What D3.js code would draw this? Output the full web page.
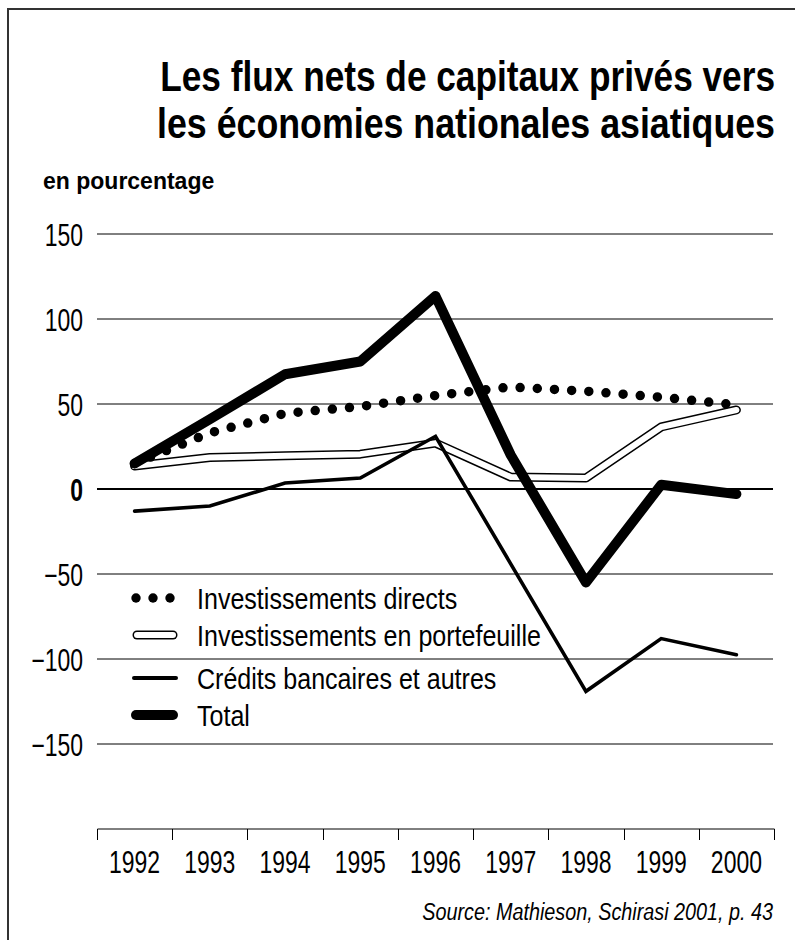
<!DOCTYPE html>
<html><head><meta charset="utf-8">
<script src="https://cdn.jsdelivr.net/npm/d3@7"></script>
<style>
html,body{margin:0;padding:0;background:#fff;}
svg{display:block;}
text{font-family:"Liberation Sans","Arimo",Arial,sans-serif;fill:#000;}
</style></head>
<body>
<svg id="c" width="795" height="940"></svg>
<script>
const years = ["1992","1993","1994","1995","1996","1997","1998","1999","2000"];
const direct    = [15, 33, 44.5, 48.5, 55, 60, 57.5, 54, 49.5];
const portfolio = [13.5, 18.5, 19.5, 20.5, 27, 7, 6.5, 36.5, 46.5];
const credits   = [-13, -10, 3.5, 6.5, 31, -44, -119, -88, -97.5];
const total     = [15, 41, 67.5, 75, 113.5, 20, -55, 2.5, -3];
const yTicks = [150, 100, 50, 0, -50, -100, -150];
const seriesNames = ["Investissements directs","Investissements en portefeuille","Crédits bancaires et autres","Total"];
const titleLines = ["Les flux nets de capitaux privés vers","les économies nationales asiatiques"];
const unitLabel = "en pourcentage";
const sourceText = "Source: Mathieson, Schirasi 2001, p. 43";

const svg = d3.select("#c");
const x = d3.scaleBand().domain(years).range([97, 774]).padding(0);
const y = d3.scaleLinear().domain([-200, 150]).range([829, 234]);
const cx = d => x(d) + x.bandwidth()/2;

function condense(sel, f){ sel.each(function(){ const w=this.getComputedTextLength(); d3.select(this).attr("textLength", w*f).attr("lengthAdjust","spacingAndGlyphs"); }); }
function squeeze(sel, ax, ay, target){ sel.each(function(){ const w=this.getComputedTextLength(); const s=Math.min(1,target/w); d3.select(this).attr("x",0).attr("y",0).attr("transform",`translate(${ax},${ay}) scale(${s},1)`); }); }

// frame
svg.append("line").attr("x1",7).attr("x2",795).attr("y1",9).attr("y2",9).attr("stroke","#333").attr("stroke-width",2);
svg.append("line").attr("x1",8).attr("x2",8).attr("y1",8).attr("y2",940).attr("stroke","#333").attr("stroke-width",2);

// title
titleLines.forEach((t,i)=>{
  svg.append("text").attr("text-anchor","end").style("font-size","42px").style("font-weight","bold")
    .text(t).call(squeeze, 775, 91+i*47, i===0?615:618);
});
svg.append("text").style("font-size","23px").style("font-weight","bold")
  .text(unitLabel).call(squeeze, 43, 189, 175);

// y grid + labels
const yAxis = d3.axisLeft(y).tickValues(yTicks).tickSize(0).tickPadding(0)
  .tickFormat(d => d < 0 ? "\u2212" + Math.abs(d) : String(d));
const gy = svg.append("g").attr("transform","translate(83,0)").call(yAxis);
gy.select(".domain").remove();
gy.selectAll("text").attr("x",0).attr("dy","0.36em").style("font-size","31px")
  .style("font-family","'Liberation Sans',Arial,sans-serif")
  .style("font-weight", d => d===0 ? "bold" : "normal").call(condense, 0.74);
svg.append("g").selectAll("line").data(yTicks).join("line")
  .attr("x1",97).attr("x2",773).attr("y1",d=>y(d)).attr("y2",d=>y(d))
  .attr("stroke","#000").attr("stroke-width",d=>d===0?2:1);

// x axis
const xAxis = d3.axisBottom(x).tickSize(0).tickPadding(0);
const gx = svg.append("g").attr("transform","translate(0,829)").call(xAxis);
gx.select(".domain").attr("d","M97.5,0H774.5").attr("stroke","#000").attr("stroke-width",1);
gx.selectAll(".tick line").remove();
gx.selectAll("text").attr("y",44).attr("dy",0).style("font-size","31px")
  .style("font-family","'Liberation Sans',Arial,sans-serif").call(condense,0.74);
const bounds = years.map(d=>x(d)).concat([x(years[years.length-1])+x.bandwidth()]);
gx.append("g").selectAll("line").data(bounds).join("line")
  .attr("x1",d=>Math.round(d)+0.5).attr("x2",d=>Math.round(d)+0.5).attr("y1",0).attr("y2",11)
  .attr("stroke","#000").attr("stroke-width",1);

// lines
const line = d3.line().x((d,i)=>cx(years[i])).y(d=>y(d));
const gl = svg.append("g").attr("fill","none");
gl.append("path").attr("d",line(portfolio)).attr("stroke","#000").attr("stroke-width",9)
  .attr("stroke-linecap","round").attr("stroke-linejoin","round");
gl.append("path").attr("d",line(portfolio)).attr("stroke","#fff").attr("stroke-width",6)
  .attr("stroke-linecap","round").attr("stroke-linejoin","round");
gl.append("path").attr("d",line(credits)).attr("stroke","#000").attr("stroke-width",3.6)
  .attr("stroke-linecap","round").attr("stroke-linejoin","miter");
gl.append("path").attr("d",line(direct)).attr("stroke","#000").attr("stroke-width",9.5)
  .attr("stroke-linecap","round").attr("stroke-dasharray","0 17.2");
gl.append("path").attr("d",line(total)).attr("stroke","#000").attr("stroke-width",10)
  .attr("stroke-linecap","round").attr("stroke-linejoin","round");

// legend
const rowY = [598, 635, 678, 715];
const lg = svg.append("g");
lg.selectAll("circle").data([136,153,170]).join("circle").attr("cx",d=>d).attr("cy",rowY[0]).attr("r",4.7).attr("fill","#000");
lg.append("line").attr("x1",137).attr("x2",173).attr("y1",rowY[1]).attr("y2",rowY[1]).attr("stroke","#000").attr("stroke-width",9).attr("stroke-linecap","round");
lg.append("line").attr("x1",137).attr("x2",173).attr("y1",rowY[1]).attr("y2",rowY[1]).attr("stroke","#fff").attr("stroke-width",6).attr("stroke-linecap","round");
lg.append("line").attr("x1",134).attr("x2",176).attr("y1",rowY[2]).attr("y2",rowY[2]).attr("stroke","#000").attr("stroke-width",4).attr("stroke-linecap","round");
lg.append("line").attr("x1",136).attr("x2",173).attr("y1",rowY[3]).attr("y2",rowY[3]).attr("stroke","#000").attr("stroke-width",10).attr("stroke-linecap","round");
lg.selectAll("text").data(seriesNames).join("text").attr("x",197).attr("y",(d,i)=>rowY[i]).attr("dy","0.36em")
  .style("font-size","30px").text(d=>d).call(condense,0.835);

// source
svg.append("text").attr("text-anchor","end").style("font-size","23px")
  .style("font-style","italic").text(sourceText).call(squeeze, 773, 920, 351);
</script>
</body></html>
